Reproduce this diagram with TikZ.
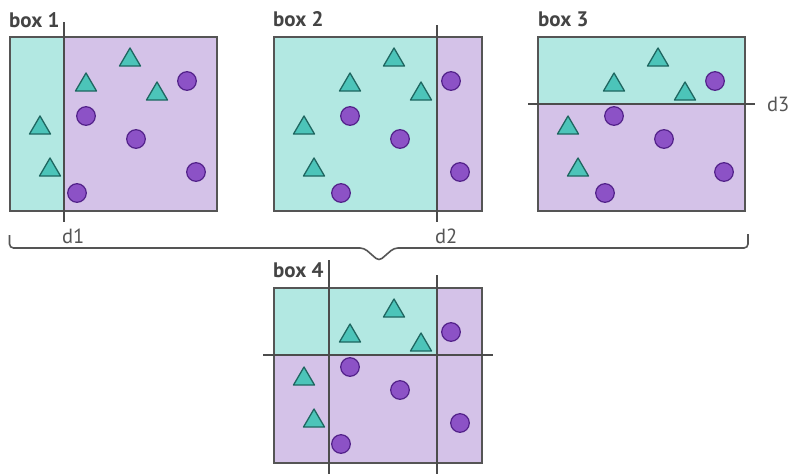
\documentclass[tikz,border=0pt]{standalone}
\usepackage{fontspec}
\setmainfont{PT Sans}
\definecolor{tealbg}{HTML}{B2E8E2}
\definecolor{purplebg}{HTML}{D4C2E8}
\definecolor{trifill}{HTML}{4CC4B9}
\definecolor{tristroke}{HTML}{1E6660}
\definecolor{dotfill}{HTML}{8C52C6}
\definecolor{dotstroke}{HTML}{53228A}
\definecolor{framegray}{HTML}{555555}
\definecolor{labelgray}{HTML}{444444}

\tikzset{
  boxframe/.style={draw=framegray, line width=1.6pt},
  splitline/.style={draw=framegray!90!black, line width=1.3pt},
  trishape/.style={fill=trifill, draw=tristroke, line width=1.3pt, line join=round},
  dotshape/.style={fill=dotfill, draw=dotstroke, line width=1.2pt},
  boxtitle/.style={anchor=base west, inner sep=0pt, font=\bfseries\fontsize{21}{24}\selectfont, text=labelgray},
  splitlabel/.style={anchor=base west, inner sep=0pt, font=\fontsize{20.5}{23}\selectfont, text=framegray},
  tri/.pic={\path[trishape] (0,-9) -- (10.5,9) -- (-10.5,9) -- cycle;},
  dot/.pic={\path[dotshape] (0,0) circle (9.3pt);}
}

% the same ten samples sit in every box, offset by its top-left corner
\newcommand\placesamples[2]{%
  \foreach \tx/\ty in {120/20, 76/45, 147/54, 30/88, 40/130}
    \pic at ({#1+\tx},{#2+\ty}) {tri};
  \foreach \cx/\cy in {177/44, 76/79, 126/102, 186/135, 67/156}
    \pic at ({#1+\cx},{#2+\cy}) {dot};
}

\begin{document}
\begin{tikzpicture}[x=1pt, y=-1pt]
\useasboundingbox (0,0) rectangle (797,474);
\fill[white] (0,0) rectangle (797,474);

% ---- box 1: vertical split d1
\fill[tealbg] (10,37) rectangle (64,211);
\fill[purplebg] (64,37) rectangle (217,211);
\draw[boxframe] (10,37) rectangle (217,211);
\placesamples{10}{37}
\coordinate (d1top) at (64,22);
\coordinate (d1bot) at (64,222);
\draw[splitline] (d1top) -- (d1bot);
\node[boxtitle] (t1) at (9,27) {box 1};
\node[splitlabel] (l1) at (62,243) {d1};

% ---- box 2: vertical split d2
\fill[tealbg] (274,37) rectangle (437,211);
\fill[purplebg] (437,37) rectangle (482,211);
\draw[boxframe] (274,37) rectangle (482,211);
\placesamples{274}{37}
\coordinate (d2top) at (437,25);
\coordinate (d2bot) at (437,222);
\draw[splitline] (d2top) -- (d2bot);
\node[boxtitle] (t2) at (273,26) {box 2};
\node[splitlabel] (l2) at (435,243) {d2};

% ---- box 3: horizontal split d3
\fill[tealbg] (538,37) rectangle (745,104);
\fill[purplebg] (538,104) rectangle (745,211);
\draw[boxframe] (538,37) rectangle (745,211);
\placesamples{538}{37}
\coordinate (d3left) at (528,104);
\coordinate (d3right) at (755,104);
\draw[splitline] (d3left) -- (d3right);
\node[boxtitle] (t3) at (538,26) {box 3};
\node[splitlabel] (l3) at (767,111) {d3};

% ---- brace gathering the three splits
\coordinate (bl) at (9.5,235);
\coordinate (br) at (748,234);
\draw[framegray, line width=1.6pt, rounded corners=4pt]
  (bl) -- (9.5,248) -- (364,248) -- (379,261) -- (394,248) -- (748,248) -- (br);

% ---- box 4: all three splits combined
\fill[purplebg] (274,288) rectangle (482,463);
\fill[tealbg] (274,288) rectangle (437,355);
\draw[boxframe] (274,288) rectangle (482,463);
\node[boxtitle] (t4) at (273,277) {box 4};
\coordinate (v1top) at (329,260);
\coordinate (v1bot) at (329,474);
\coordinate (v2top) at (437,275);
\coordinate (v2bot) at (437,474);
\coordinate (hleft) at (263,355);
\coordinate (hright) at (493,355);
\draw[splitline] (v1top) -- (v1bot);
\draw[splitline] (v2top) -- (v2bot);
\draw[splitline] (hleft) -- (hright);
\placesamples{274}{288}
\end{tikzpicture}
\end{document}
